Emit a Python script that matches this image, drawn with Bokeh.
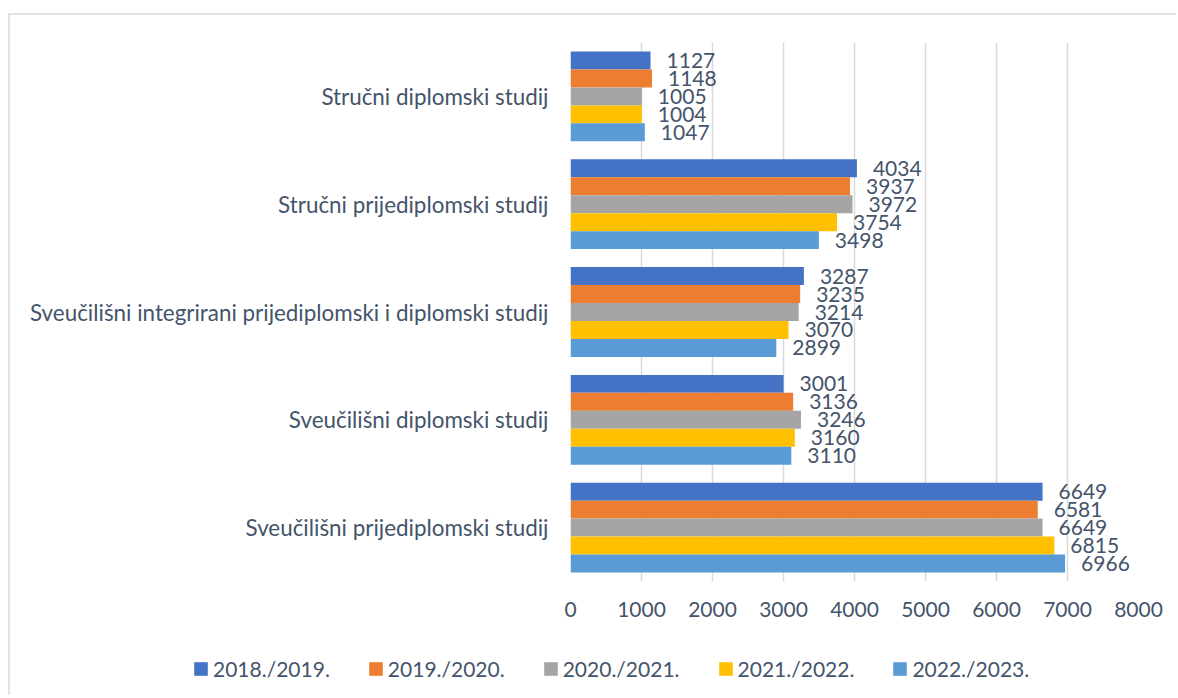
from bokeh.plotting import figure
from bokeh.models import (ColumnDataSource, FactorRange, Range1d, Legend, LegendItem, FixedTicker,
                          NumeralTickFormatter)
from bokeh.layouts import column
from bokeh.transform import dodge
from bokeh.core.properties import value
from bokeh.embed import file_html
from bokeh.resources import INLINE

# Categories listed bottom-to-top (as the axis draws them)
categories = [
    "Sveučilišni prijediplomski studij",
    "Sveučilišni diplomski studij",
    "Sveučilišni integrirani prijediplomski i diplomski studij",
    "Stručni prijediplomski studij",
    "Stručni diplomski studij",
]
series_names = ["2018./2019.", "2019./2020.", "2020./2021.", "2021./2022.", "2022./2023."]
v_2018 = [6649, 3001, 3287, 4034, 1127]
v_2019 = [6581, 3136, 3235, 3937, 1148]
v_2020 = [6649, 3246, 3214, 3972, 1005]
v_2021 = [6815, 3160, 3070, 3754, 1004]
v_2022 = [6966, 3110, 2899, 3498, 1047]
series_values = [v_2018, v_2019, v_2020, v_2021, v_2022]
colors = ["#4472C4", "#ED7D31", "#A5A5A5", "#FFC000", "#5B9BD5"]
x_ticks = [0, 1000, 2000, 3000, 4000, 5000, 6000, 7000, 8000]

FONT = "Lato"
TXT = "#44546A"
FS_CAT = "22.4px"
FS_NUM = "21px"

data = {"cat": categories}
for i, vals in enumerate(series_values):
    data["s%d" % i] = vals
    data["l%d" % i] = [str(v) for v in vals]
src = ColumnDataSource(data)

W = 1166
p = figure(
    y_range=FactorRange(factors=categories, range_padding=0),
    x_range=Range1d(0, 8000),
    width=W, height=606,
    output_backend="svg", toolbar_location=None,
    min_border_left=560, min_border_right=38, min_border_top=27, min_border_bottom=40,
)
p.frame_align = False
p.outline_line_color = None
p.background_fill_color = "white"
p.border_fill_color = "white"

bh = 1.0 / 6.0
for i, name in enumerate(series_names):
    off = (2 - i) * bh
    p.hbar(y=dodge("cat", off, range=p.y_range), right="s%d" % i, left=0, height=bh,
           source=src, fill_color=colors[i], line_color=None)
    p.text(x="s%d" % i, y=dodge("cat", off, range=p.y_range), text="l%d" % i, source=src,
           x_offset=16, text_align="left", text_baseline="middle",
           text_font=value(FONT), text_font_size=FS_NUM, text_color=TXT)

p.xgrid.ticker = FixedTicker(ticks=x_ticks)
p.xgrid.grid_line_color = "#D9D9D9"
p.xgrid.grid_line_width = 1.5
p.ygrid.grid_line_color = None

p.xaxis.ticker = FixedTicker(ticks=x_ticks)
p.xaxis.formatter = NumeralTickFormatter(format="0")
p.xaxis.axis_line_color = None
p.xaxis.major_tick_line_color = None
p.xaxis.minor_tick_line_color = None
p.xaxis.major_label_standoff = 14
p.xaxis.major_label_text_font = FONT
p.xaxis.major_label_text_font_size = FS_NUM
p.xaxis.major_label_text_color = TXT

p.yaxis.axis_line_color = None
p.yaxis.major_tick_line_color = None
p.yaxis.minor_tick_line_color = None
p.yaxis.major_label_standoff = 16
p.yaxis.major_label_text_font = FONT
p.yaxis.major_label_text_font_size = FS_CAT
p.yaxis.major_label_text_color = TXT

# Legend strip (separate figure so the legend sits below the axis, unclipped).
# Its bars use the real data but fall outside this strip's ranges, so only legend swatches show.
pl = figure(width=W, height=74, x_range=Range1d(0, 1), y_range=Range1d(0, 1),
            output_backend="svg", toolbar_location=None,
            x_axis_location=None, y_axis_location=None,
            min_border=0, min_border_left=0, min_border_right=0, min_border_top=0, min_border_bottom=0)
pl.frame_align = False
pl.outline_line_color = None
pl.xgrid.grid_line_color = None
pl.ygrid.grid_line_color = None
items = []
for i, name in enumerate(series_names):
    r = pl.hbar(y="s%d" % i, right="s%d" % i, left="s%d" % i, height=0.1, source=src,
                fill_color=colors[i], line_color=None)
    items.append(LegendItem(label=name, renderers=[r]))
legend = Legend(items=items, orientation="horizontal", location=(182, 14),
                glyph_width=17, glyph_height=17, label_standoff=4, spacing=37,
                padding=4, margin=0, border_line_color=None, background_fill_alpha=0,
                label_text_font=FONT, label_text_font_size=FS_NUM, label_text_color=TXT)
pl.add_layout(legend, "center")

layout = column(p, pl, spacing=0)
layout.styles = {"border-top": "2px solid #DFE3E8", "border-left": "2px solid #DFE3E8",
                 "margin-top": "13px", "margin-left": "8px"}

open("out.html", "w").write(file_html(layout, INLINE))
